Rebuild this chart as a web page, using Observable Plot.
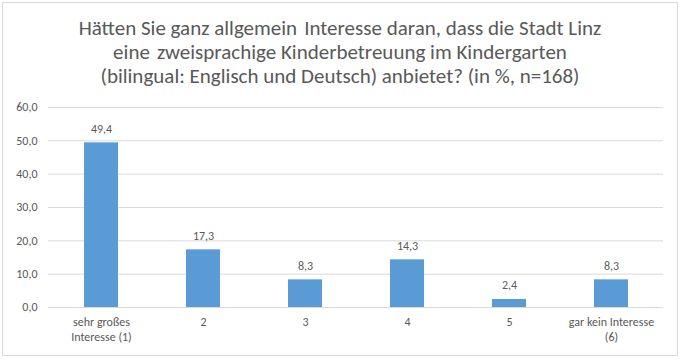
<!DOCTYPE html>
<html><head><meta charset="utf-8">
<script src="https://cdn.jsdelivr.net/npm/d3@7"></script>
<script src="https://cdn.jsdelivr.net/npm/@observablehq/plot@0.6"></script>
<style>
body{margin:0;background:#fff;}
#box{position:absolute;left:2px;top:2px;width:674px;height:352px;border:1px solid #d9d9d9;background:#fff;}
#title{position:absolute;left:0;top:13px;width:674px;text-align:center;font-family:Carlito,Lato,sans-serif;font-size:21px;line-height:24px;color:#595959;}
#chart{position:absolute;left:0;top:90px;}
</style></head><body>
<div id="box"><div id="title">Hätten Sie ganz allgemein&#8196;Interesse daran, dass die Stadt Linz<br>eine&#8196;zweisprachige Kinderbetreuung im Kindergarten<br>(bilingual: Englisch und Deutsch) anbietet? (in %, n=168)</div><div id="chart"></div></div>
<script>
const categories = ["sehr großes\nInteresse (1)", "2", "3", "4", "5", "gar kein Interesse\n(6)"];
const values = [49.4, 17.3, 8.3, 14.3, 2.4, 8.3];
const yTicks = [0, 10, 20, 30, 40, 50, 60];
const data = categories.map((c, i) => ({c, v: values[i]}));
const fmt = d => d.toFixed(1).replace(".", ",");
const chart = Plot.plot({
  width: 674, height: 262,
  marginTop: 14, marginBottom: 48, marginLeft: 45, marginRight: 14,
  style: {fontFamily: "Carlito, Lato, sans-serif", fontSize: "12px", color: "#595959", background: "transparent"},
  x: {domain: categories, paddingInner: 0.67, paddingOuter: 0.335, label: null},
  y: {domain: [0, 60], label: null},
  marks: [
    Plot.gridY(yTicks, {stroke: "#d9d9d9", strokeOpacity: 1}),
    Plot.axisY(yTicks, {tickSize: 0, tickPadding: 11, tickFormat: fmt, label: null, fill: "#595959", fontSize: 12}),
    Plot.axisX({tickSize: 0, tickPadding: 8, label: null, fill: "#595959", fontSize: 12, lineHeight: 1.25}),
    Plot.barY(data, {x: "c", y: "v", fill: "#5b9bd5"}),
    Plot.text(data, {x: "c", y: "v", text: d => fmt(d.v), dy: -14, fill: "#595959", fontSize: 12})
  ]
});
document.getElementById("chart").appendChild(chart);
</script>
</body></html>
